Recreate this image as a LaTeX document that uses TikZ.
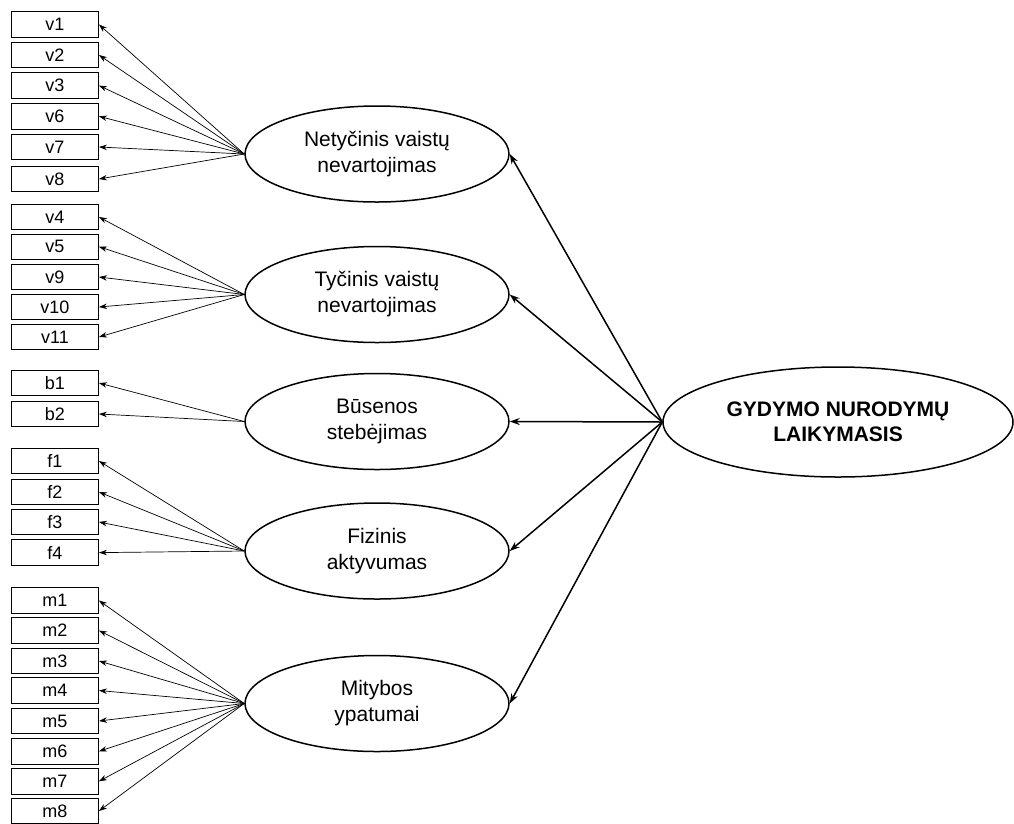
\documentclass[tikz,border=0pt]{standalone}
\usepackage{fontspec}
\setmainfont{Liberation Sans}
\usetikzlibrary{arrows.meta,shapes.geometric}
\begin{document}
\begin{tikzpicture}[x=1pt,y=-1pt,
  ind/.style={draw, line width=0.9pt, minimum width=87pt, minimum height=25.5pt, inner sep=0pt, font=\fontsize{18}{20}\selectfont},
  lat/.style={draw, ellipse, line width=1.5pt, minimum width=264pt, minimum height=96pt, inner sep=0pt, align=center, font=\fontsize{21}{26}\selectfont},
  bigl/.style={draw, ellipse, line width=1.5pt, minimum width=350pt, minimum height=110pt, inner sep=0pt, align=center, font=\bfseries\fontsize{21}{25}\selectfont},
  ld/.style={-{Stealth[length=8pt,width=5.5pt]}, line width=0.7pt},
  st/.style={-{Stealth[length=10pt,width=7pt]}, line width=1.5pt}]
\clip (0,0) rectangle (1014,823);
\fill[white] (0,0) rectangle (1014,823);

% latent ellipses
\node[lat] (e1) at (377,154) {Netyčinis vaistų\\nevartojimas};
\node[lat] (e2) at (377,294.5) {Tyčinis vaistų\\nevartojimas};
\node[lat] (e3) at (377,421.5) {Būsenos\\stebėjimas};
\node[lat] (e4) at (377,551) {Fizinis\\aktyvumas};
\node[lat] (e5) at (377,703.5) {Mitybos\\ypatumai};
\node[bigl] (g) at (838,422) {GYDYMO NURODYMŲ\\LAIKYMASIS};

% indicator boxes
\foreach \n/\y in {v1/24.5, v2/55, v3/85.5, v6/116.3, v7/147, v8/179}
  {\node[ind] (\n) at (55,\y) {\n}; \draw[ld] (e1.west) -- (\n.east);}
\foreach \n/\y in {v4/217, v5/246.7, v9/277, v10/307, v11/337}
  {\node[ind] (\n) at (55,\y) {\n}; \draw[ld] (e2.west) -- (\n.east);}
\foreach \n/\y in {b1/383, b2/414}
  {\node[ind] (\n) at (55,\y) {\n}; \draw[ld] (e3.west) -- (\n.east);}
\foreach \n/\y in {f1/461, f2/492, f3/522, f4/552.6}
  {\node[ind] (\n) at (55,\y) {\n}; \draw[ld] (e4.west) -- (\n.east);}
\foreach \n/\y in {m1/600.5, m2/630.5, m3/661, m4/690.5, m5/721, m6/751.3, m7/781.3, m8/811}
  {\node[ind] (\n) at (55,\y) {\n}; \draw[ld] (e5.west) -- (\n.east);}

% structural arrows
\foreach \e in {e1,e2,e3,e4,e5}
  \draw[st] (g.west) -- (\e.east);
\end{tikzpicture}
\end{document}
